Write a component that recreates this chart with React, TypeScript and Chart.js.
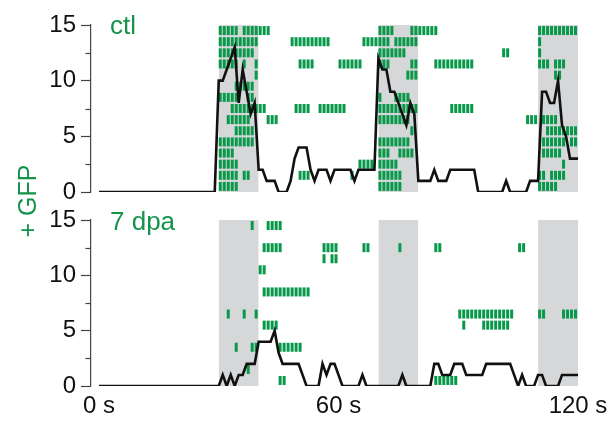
import React, { useEffect, useRef } from 'react';
import { Chart, registerables } from 'chart.js';

Chart.register(...registerables);

// ---------- data ----------
const TIME_S = Array.from({ length: 121 }, (_, i) => i); // 0..120 s, 1 s bins

const CTL_COUNT = [
  0, 0, 0, 0, 0, 0, 0, 0, 0, 0, 0, 0, 0, 0, 0, 0, 0, 0, 0, 0,
  0, 0, 0, 0, 0, 0, 0, 0, 0, 0, 10, 10, 11, 12, 13, 8, 11, 9, 7, 8,
  2, 2, 1, 1, 1, 0, 0, 0, 1, 3, 4, 4, 4, 2, 1, 2, 2, 2, 1, 2,
  2, 2, 2, 2, 1, 2, 2, 2, 2, 2, 12, 11, 11, 9, 9, 8, 7, 6, 8, 7,
  1, 1, 1, 1, 2, 1, 1, 1, 2, 2, 2, 2, 2, 2, 2, 0, 0, 0, 0, 0,
  0, 0, 1, 0, 0, 0, 0, 0, 1, 1, 1, 9, 9, 8, 8, 10, 6, 5, 3, 3,
  3,
];

const DPA_COUNT = [
  0, 0, 0, 0, 0, 0, 0, 0, 0, 0, 0, 0, 0, 0, 0, 0, 0, 0, 0, 0,
  0, 0, 0, 0, 0, 0, 0, 0, 0, 0, 0, 1, 0, 1, 0, 1, 1, 2, 2, 2,
  4, 4, 4, 4, 5, 3, 2, 2, 2, 2, 2, 1, 0, 0, 0, 0, 2, 1, 2, 2,
  1, 0, 0, 0, 0, 0, 1, 0, 0, 0, 0, 0, 0, 0, 0, 0, 1, 0, 0, 0,
  0, 0, 0, 0, 2, 2, 1, 1, 1, 2, 2, 2, 1, 1, 1, 1, 1, 2, 2, 2,
  2, 2, 2, 2, 1, 0, 1, 0, 0, 0, 1, 1, 0, 0, 0, 0, 1, 1, 1, 1,
  1,
];

// active intervals [start, end) in seconds for each cell, row 0 (bottom) .. row 14 (top)
const CTL_CELLS: number[][][] = [
  [[30, 35], [70, 76], [110, 115]],
  [[30, 35], [36, 38], [50, 53], [63, 64], [70, 76], [110, 112], [113, 117]],
  [[30, 35], [65, 69], [70, 75], [116, 117]],
  [[30, 34], [70, 73], [75, 79], [111, 116]],
  [[30, 39], [70, 78], [111, 117], [118, 120]],
  [[34, 39], [78, 79], [112, 120]],
  [[32, 38], [42, 45], [70, 78], [107, 110], [111, 115]],
  [[33, 42], [49, 53], [55, 62], [70, 80], [88, 94]],
  [[30, 35], [37, 39], [70, 71], [74, 78]],
  [[34, 39]],
  [[39, 40], [77, 80], [114, 116]],
  [[30, 35], [36, 37], [39, 40], [50, 54], [60, 66], [70, 73], [78, 80], [84, 94], [110, 113], [114, 117]],
  [[30, 39], [70, 77], [101, 103], [110, 111]],
  [[30, 40], [48, 58], [66, 73], [74, 80], [110, 111]],
  [[30, 35], [36, 43], [70, 74], [78, 85], [110, 120]],
];

const DPA_CELLS: number[][][] = [
  [[45, 47], [84, 90]],
  [[37, 38]],
  [],
  [[34, 35], [38, 40], [45, 51]],
  [],
  [[41, 45], [91, 92], [96, 103]],
  [[32, 33], [36, 37], [39, 40], [90, 104], [110, 112], [116, 120]],
  [],
  [[41, 53]],
  [],
  [[40, 42]],
  [[56, 57], [58, 60]],
  [[41, 46], [56, 60], [66, 68], [75, 76], [84, 86], [105, 107]],
  [],
  [[38, 39], [42, 46]],
];

const STIM_BANDS = [[30, 40], [70, 80], [110, 120]];
const Y_TICKS = [0, 5, 10, 15];
const Y_MINOR_TICKS = [2.5, 7.5, 12.5];
const X_TICKS = [0, 60, 120];
const X_TICK_LABELS = ['0 s', '60 s', '120 s'];
const PANEL_LABELS = ['ctl', '7 dpa'];
const Y_TITLE = '+ GFP';

// ---------- styles ----------
const GREEN = '#08984a';
const TEXT_GREEN = '#14944a';
const GRAY = '#d6d7d9';
const FONT = '"Liberation Sans", Arial, Helvetica, sans-serif';

const minorTickPlugin = {
  id: 'minorTicks',
  afterDraw(chart: any) {
    const y = chart.scales.y;
    const ctx = chart.ctx;
    ctx.save();
    ctx.strokeStyle = '#444';
    ctx.lineWidth = 1.2;
    for (const v of Y_MINOR_TICKS) {
      const py = Math.round(y.getPixelForValue(v)) + 0.5;
      ctx.beginPath();
      ctx.moveTo(y.right - 5.5, py);
      ctx.lineTo(y.right, py);
      ctx.stroke();
    }
    ctx.restore();
  },
};

function buildConfig(counts: number[], cells: number[][][], showX: boolean, padTop: number, padBottom: number) {
  const bandSets = STIM_BANDS.map(([a, b]) => ({
    type: 'line',
    data: [{ x: a, y: 15 }, { x: b, y: 15 }],
    fill: 'origin',
    backgroundColor: GRAY,
    borderWidth: 0,
    pointRadius: 0,
    order: 3,
  }));
  const marks: { x: number; y: number }[] = [];
  cells.forEach((row, r) => {
    row.forEach(([a, b]) => {
      for (let t = a; t < b; t++) marks.push({ x: t + 0.38, y: r + 0.5 });
    });
  });
  return {
    type: 'scatter',
    data: {
      datasets: [
        {
          type: 'line',
          data: TIME_S.map((t, i) => ({ x: t, y: counts[i] })),
          borderColor: '#111',
          borderWidth: 2.6,
          pointRadius: 0,
          tension: 0,
          fill: false,
          order: 0,
        },
        {
          type: 'scatter',
          data: marks,
          pointStyle: 'line',
          rotation: 90,
          radius: 4.5,
          borderWidth: 3,
          borderColor: GREEN,
          backgroundColor: GREEN,
          order: 1,
        },
        ...bandSets,
      ],
    },
    options: {
      animation: false,
      responsive: false,
      events: [],
      layout: { padding: { top: padTop, bottom: padBottom, left: 0, right: 30 } },
      plugins: { legend: { display: false }, tooltip: { enabled: false } },
      scales: {
        x: {
          type: 'linear',
          min: -2,
          max: 120,
          display: showX,
          grid: { display: false, drawTicks: false },
          border: { display: false },
          afterBuildTicks: (s: any) => {
            s.ticks = X_TICKS.map((v) => ({ value: v }));
          },
          afterFit: (s: any) => {
            if (showX) s.height = 35;
            s.paddingLeft = 0;
            s.paddingRight = 0;
          },
          ticks: {
            padding: 6,
            maxRotation: 0,
            autoSkip: false,
            color: '#111',
            font: { family: FONT, size: 24 },
            callback: (v: number) => X_TICK_LABELS[X_TICKS.indexOf(v)] ?? '',
          },
        },
        y: {
          type: 'linear',
          min: 0,
          max: 15,
          afterBuildTicks: (s: any) => {
            s.ticks = Y_TICKS.map((v) => ({ value: v }));
          },
          afterFit: (s: any) => {
            s.width = 91;
            s.paddingTop = 0;
            s.paddingBottom = 0;
          },
          grid: { drawOnChartArea: false, drawTicks: true, tickLength: 10, tickColor: '#444', tickWidth: 1.2 },
          border: { display: true, color: '#444', width: 1.2 },
          ticks: {
            padding: 5,
            color: '#111',
            font: { family: FONT, size: 24 },
          },
        },
      },
    },
    plugins: [minorTickPlugin],
  };
}

function Panel({ counts, cells, showX, top, height, padTop, padBottom }: any) {
  const ref = useRef<HTMLCanvasElement | null>(null);
  useEffect(() => {
    if (!ref.current) return;
    const chart = new Chart(ref.current, buildConfig(counts, cells, showX, padTop, padBottom) as any);
    return () => chart.destroy();
  }, []);
  return (
    <div style={{ position: 'absolute', left: 0, top, width: 608, height }}>
      <canvas ref={ref} width={608} height={height} style={{ width: 608, height }} />
    </div>
  );
}

export default function App() {
  const labelStyle: React.CSSProperties = {
    position: 'absolute',
    color: TEXT_GREEN,
    fontFamily: FONT,
    fontSize: 26,
    lineHeight: '26px',
    whiteSpace: 'nowrap',
  };
  return (
    <div style={{ position: 'fixed', left: 0, top: 0, width: 608, height: 421, background: '#fff', overflow: 'hidden' }}>
      <Panel counts={CTL_COUNT} cells={CTL_CELLS} showX={false} top={0} height={205} padTop={25} padBottom={13} />
      <Panel counts={DPA_COUNT} cells={DPA_CELLS} showX={true} top={205} height={216} padTop={15} padBottom={0} />
      <div style={{ ...labelStyle, left: 110, top: 12 }}>{PANEL_LABELS[0]}</div>
      <div style={{ ...labelStyle, left: 110, top: 208 }}>{PANEL_LABELS[1]}</div>
      <div
        style={{
          ...labelStyle,
          fontSize: 25,
          left: 27,
          top: 201,
          transform: 'translate(-50%, -50%) rotate(-90deg)',
        }}
      >
        {Y_TITLE}
      </div>
    </div>
  );
}
